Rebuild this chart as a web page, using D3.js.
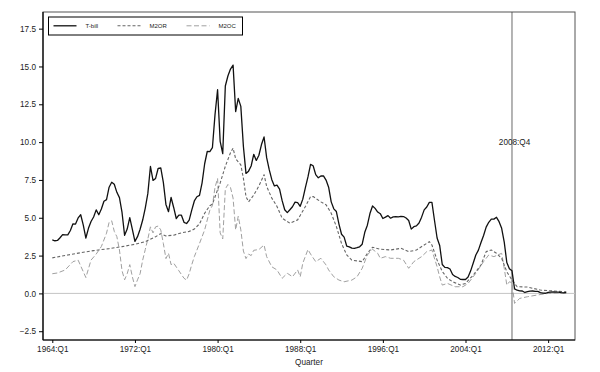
<!DOCTYPE html>
<html>
<head>
<meta charset="utf-8">
<script src="https://cdn.jsdelivr.net/npm/d3@7"></script>
<style>
body { margin: 0; background: #fff; }
svg { display: block; font-family: "Liberation Sans", Arial, sans-serif; }
</style>
</head>
<body>
<svg id="chart" width="600" height="372"></svg>
<script>
// T-bill, one value per quarter starting at firstQuarter
const firstQuarter = "1964:Q1";
const tbill = [
  3.53, 3.48, 3.50, 3.68,  3.89, 3.87, 3.87, 4.16,  4.60, 4.58, 4.99, 5.20,
  4.51, 3.66, 4.30, 4.75,  5.05, 5.52, 5.20, 5.58,  6.09, 6.20, 7.02, 7.35,
  7.21, 6.68, 6.33, 5.35,  3.84, 4.25, 5.01, 4.23,  3.44, 3.75, 4.24, 4.85,
  5.64, 6.61, 8.39, 7.47,  7.60, 8.27, 8.29, 7.34,  5.88, 5.40, 6.34, 5.68,
  4.95, 5.17, 5.17, 4.70,  4.62, 4.84, 5.50, 6.11,  6.39, 6.48, 7.31, 8.57,
  9.38, 9.37, 9.63, 11.80, 13.46, 10.05, 9.24, 13.71, 14.37, 14.83, 15.09, 12.02,
  12.89, 12.36, 9.71, 7.93, 8.08, 8.42, 9.19, 8.79,  9.13, 9.84, 10.34, 8.97,
  8.18, 7.52, 7.10, 7.15,  6.89, 6.13, 5.53, 5.34,  5.53, 5.73, 6.03, 6.00,
  5.76, 6.23, 6.99, 7.70,  8.53, 8.44, 7.85, 7.64,  7.76, 7.77, 7.49, 7.02,
  6.05, 5.59, 5.41, 4.58,  3.91, 3.72, 3.13, 3.08,  2.99, 2.98, 3.02, 3.08,
  3.25, 4.04, 4.51, 5.28,  5.78, 5.62, 5.38, 5.27,  4.95, 5.04, 5.14, 4.97,
  5.06, 5.07, 5.06, 5.09,  5.08, 4.98, 4.82, 4.25,  4.41, 4.46, 4.65, 5.04,
  5.52, 5.71, 6.02, 6.02,  4.82, 3.66, 3.17, 1.91,  1.72, 1.70, 1.61, 1.25,
  1.12, 1.05, 0.93, 0.92,  0.92, 1.08, 1.49, 2.01,  2.54, 2.86, 3.36, 3.83,
  4.38, 4.70, 4.91, 4.91,  5.03, 4.74, 4.30, 3.39,  2.04, 1.63, 1.49, 0.30,
  0.21, 0.17, 0.16, 0.06,  0.11, 0.15, 0.16, 0.14,  0.13, 0.05, 0.02, 0.01,
  0.07, 0.09, 0.10, 0.09,  0.09, 0.05, 0.03, 0.06
];

// M2OR, read at turning points
const m2or = [
  ["1964:Q1", 2.35], ["1965:Q3", 2.54], ["1966:Q4", 2.69], ["1968:Q1", 2.83],
  ["1969:Q3", 2.96], ["1970:Q4", 3.09], ["1972:Q1", 3.25], ["1973:Q1", 3.42],
  ["1974:Q1", 3.75], ["1974:Q3", 3.95], ["1975:Q1", 3.80], ["1975:Q4", 3.85],
  ["1976:Q3", 4.00], ["1977:Q2", 4.10], ["1977:Q4", 4.25], ["1978:Q2", 4.60],
  ["1978:Q4", 5.30], ["1979:Q2", 5.80], ["1979:Q3", 5.90], ["1980:Q1", 6.85],
  ["1980:Q2", 7.30], ["1980:Q4", 8.40], ["1981:Q2", 9.30], ["1981:Q3", 9.60],
  ["1981:Q4", 8.90], ["1982:Q1", 8.70], ["1982:Q2", 8.50], ["1982:Q3", 7.60],
  ["1982:Q4", 6.40], ["1983:Q1", 6.05], ["1983:Q3", 6.50], ["1984:Q1", 7.10],
  ["1984:Q3", 7.85], ["1984:Q4", 7.07], ["1985:Q2", 6.30], ["1985:Q4", 5.75],
  ["1986:Q2", 4.97], ["1987:Q1", 4.64], ["1987:Q4", 4.86], ["1988:Q3", 5.74],
  ["1989:Q1", 6.40], ["1989:Q2", 6.40], ["1990:Q1", 6.05], ["1990:Q3", 5.86],
  ["1991:Q1", 5.30], ["1991:Q3", 4.42], ["1992:Q1", 3.30], ["1992:Q3", 2.54],
  ["1993:Q1", 2.20], ["1994:Q1", 2.10], ["1994:Q3", 2.65], ["1995:Q1", 3.05],
  ["1995:Q4", 2.92], ["1996:Q4", 2.87], ["1997:Q4", 2.98], ["1998:Q3", 2.76],
  ["1999:Q2", 2.87], ["2000:Q1", 3.20], ["2000:Q3", 3.42], ["2000:Q4", 3.20],
  ["2001:Q2", 2.20], ["2001:Q4", 1.45], ["2002:Q2", 1.00], ["2002:Q4", 0.77],
  ["2003:Q3", 0.55], ["2004:Q1", 0.66], ["2004:Q4", 1.21], ["2005:Q3", 1.88],
  ["2006:Q1", 2.76], ["2006:Q3", 2.87], ["2007:Q1", 2.65], ["2007:Q3", 2.32],
  ["2008:Q1", 1.43], ["2008:Q3", 0.88], ["2009:Q1", 0.44], ["2010:Q1", 0.42],
  ["2011:Q2", 0.22], ["2013:Q4", 0.10]
];

// M2OC, read at turning points
const m2oc = [
  ["1964:Q1", 1.30], ["1964:Q3", 1.35], ["1965:Q2", 1.55], ["1966:Q1", 2.10],
  ["1966:Q3", 2.20], ["1967:Q2", 1.05], ["1967:Q4", 2.20], ["1968:Q2", 2.60],
  ["1968:Q4", 3.10], ["1969:Q2", 3.98], ["1969:Q3", 4.70], ["1969:Q4", 4.80],
  ["1970:Q1", 4.10], ["1970:Q2", 3.75], ["1970:Q3", 2.87], ["1970:Q4", 1.50],
  ["1971:Q1", 0.90], ["1971:Q2", 1.30], ["1971:Q3", 1.90], ["1971:Q4", 1.10],
  ["1972:Q1", 0.45], ["1972:Q2", 0.90], ["1972:Q3", 1.30], ["1972:Q4", 2.20],
  ["1973:Q1", 2.90], ["1973:Q2", 3.60], ["1973:Q3", 4.40], ["1973:Q4", 4.00],
  ["1974:Q1", 4.40], ["1974:Q2", 4.45], ["1974:Q3", 4.20], ["1974:Q4", 3.30],
  ["1975:Q1", 2.30], ["1975:Q2", 2.65], ["1975:Q3", 1.90], ["1975:Q4", 2.00],
  ["1976:Q2", 1.50], ["1976:Q4", 1.00], ["1977:Q1", 0.88], ["1977:Q2", 1.30],
  ["1977:Q3", 1.90], ["1977:Q4", 2.43], ["1978:Q2", 3.30], ["1978:Q4", 4.20],
  ["1979:Q2", 5.50], ["1979:Q3", 5.80], ["1979:Q4", 7.00], ["1980:Q1", 7.60],
  ["1980:Q2", 4.00], ["1980:Q3", 3.60], ["1980:Q4", 6.90], ["1981:Q1", 7.20],
  ["1981:Q2", 7.00], ["1981:Q3", 6.30], ["1981:Q4", 4.20], ["1982:Q1", 5.10],
  ["1982:Q2", 4.20], ["1982:Q3", 2.80], ["1982:Q4", 2.30], ["1983:Q1", 2.60],
  ["1983:Q2", 2.50], ["1983:Q3", 2.85], ["1984:Q1", 2.90], ["1984:Q3", 3.20],
  ["1984:Q4", 2.43], ["1985:Q2", 1.76], ["1985:Q4", 1.55], ["1986:Q2", 1.00],
  ["1986:Q4", 1.33], ["1987:Q2", 1.10], ["1987:Q4", 1.55], ["1988:Q1", 1.10],
  ["1988:Q2", 2.00], ["1988:Q4", 2.90], ["1989:Q1", 2.60], ["1989:Q3", 2.10],
  ["1990:Q1", 2.32], ["1990:Q3", 1.88], ["1990:Q4", 1.55], ["1991:Q2", 1.10],
  ["1991:Q4", 0.88], ["1992:Q2", 0.77], ["1993:Q1", 0.88], ["1993:Q3", 1.10],
  ["1994:Q1", 1.66], ["1994:Q3", 2.54], ["1995:Q1", 2.92], ["1995:Q3", 2.65],
  ["1995:Q4", 2.32], ["1996:Q2", 2.43], ["1996:Q4", 2.32], ["1997:Q3", 2.32],
  ["1998:Q1", 2.20], ["1998:Q3", 1.66], ["1999:Q1", 2.10], ["1999:Q4", 2.43],
  ["2000:Q2", 2.76], ["2000:Q4", 2.87], ["2001:Q2", 1.76], ["2001:Q3", 1.10],
  ["2001:Q4", 0.55], ["2002:Q2", 0.66], ["2003:Q1", 0.44], ["2003:Q4", 0.44],
  ["2004:Q2", 0.66], ["2005:Q1", 1.33], ["2005:Q4", 2.10], ["2006:Q2", 2.54],
  ["2006:Q4", 2.43], ["2007:Q3", 2.65], ["2007:Q4", 1.66], ["2008:Q1", 0.55],
  ["2008:Q2", 0.77], ["2008:Q3", 0.70], ["2008:Q4", -0.66], ["2009:Q2", -0.33],
  ["2010:Q1", -0.22], ["2011:Q1", -0.10], ["2012:Q1", 0.00], ["2013:Q4", 0.05]
];

const yTicks = [-2.5, 0, 2.5, 5, 7.5, 10, 12.5, 15, 17.5];
const xTickQuarters = ["1964:Q1", "1972:Q1", "1980:Q1", "1988:Q1", "1996:Q1", "2004:Q1", "2012:Q1"];
const eventQuarter = "2008:Q4";
const xTitle = "Quarter";

// "1980:Q3" -> 1980.5
function qtime(q) {
    let parts = q.split(":Q");
    return +parts[0] + (+parts[1] - 1) / 4;
}

let margin = {top: 12, right: 25, bottom: 32, left: 43};
let width = 600, height = 372;

let svg = d3.select("#chart");

let x = d3.scaleLinear().domain([1963.1, 2014.6]).range([margin.left, width - margin.right]);
let y = d3.scaleLinear().domain([-3.08, 18.6]).range([height - margin.bottom, margin.top]);

let t0 = qtime(firstQuarter);
let tbillData = tbill.map((v, i) => ({t: t0 + i / 4, v: v}));
let m2orData = m2or.map(d => ({t: qtime(d[0]), v: d[1]}));
let m2ocData = m2oc.map(d => ({t: qtime(d[0]), v: d[1]}));

let series = [
    {name: "T-bill", values: tbillData, color: "#111", dash: null, width: 1.3},
    {name: "M2OR", values: m2orData, color: "#666", dash: "3,2", width: 1.1},
    {name: "M2OC", values: m2ocData, color: "#a0a0a0", dash: "5,2.5", width: 1}
];

// frame (top/right lighter)
svg.append("rect")
    .attr("x", margin.left).attr("y", margin.top)
    .attr("width", width - margin.left - margin.right)
    .attr("height", height - margin.top - margin.bottom)
    .attr("fill", "none").attr("stroke", "#555").attr("stroke-width", 1);

// zero line
svg.append("line")
    .attr("x1", margin.left).attr("x2", width - margin.right)
    .attr("y1", y(0)).attr("y2", y(0))
    .attr("stroke", "#c4c4c4").attr("stroke-width", 1);

// event line, the reference puts the rule one quarter left of its label
let ex = x(qtime(eventQuarter));
svg.append("line")
    .attr("x1", ex - (x(1) - x(0)) / 4).attr("x2", ex - (x(1) - x(0)) / 4)
    .attr("y1", margin.top).attr("y2", height - margin.bottom)
    .attr("stroke", "#444").attr("stroke-width", 0.8);
svg.append("text")
    .attr("x", ex).attr("y", 144.5)
    .attr("text-anchor", "middle")
    .attr("font-size", "8.2px").attr("fill", "#222")
    .text(eventQuarter);

let linefcn = d3.line().x(d => x(d.t)).y(d => y(d.v));

svg.selectAll(".series")
    .data(series.slice().reverse())
    .enter().append("path")
    .attr("class", "series")
    .attr("d", d => linefcn(d.values))
    .attr("fill", "none")
    .attr("stroke", d => d.color)
    .attr("stroke-width", d => d.width)
    .attr("stroke-dasharray", d => d.dash)
    .attr("stroke-linejoin", "round");

// axes
let yAxis = d3.axisLeft(y).tickValues(yTicks).tickFormat(d3.format(".1f")).tickSize(4).tickPadding(3);
let gy = svg.append("g").attr("transform", "translate(" + margin.left + ",0)").call(yAxis);
let xAxis = d3.axisBottom(x).tickValues(xTickQuarters.map(qtime))
    .tickFormat(d => xTickQuarters[xTickQuarters.map(qtime).indexOf(d)]).tickSize(3).tickPadding(3);
let gx = svg.append("g").attr("transform", "translate(0," + (height - margin.bottom) + ")").call(xAxis);

[gx, gy].forEach(g => {
    g.select(".domain").attr("stroke", "#000").attr("stroke-width", 1.2);
    g.selectAll(".tick line").attr("stroke", "#000");
    g.selectAll("text").attr("font-size", "8.2px").attr("fill", "#222")
        .attr("font-family", "Liberation Sans, Arial, sans-serif");
});
gx.select(".domain").attr("d", "M" + margin.left + ",0H" + (width - margin.right));
gy.select(".domain").attr("d", "M0," + margin.top + "V" + (height - margin.bottom));

svg.append("text")
    .attr("x", (margin.left + width - margin.right) / 2).attr("y", 364.5)
    .attr("text-anchor", "middle")
    .attr("font-size", "8.2px").attr("fill", "#222")
    .text(xTitle);

// legend
let legend = svg.append("g").attr("transform", "translate(48.5,17)");
legend.append("rect")
    .attr("width", 194).attr("height", 18)
    .attr("fill", "#fff").attr("stroke", "#000").attr("stroke-width", 1);
let lx = [5, 69, 138];
series.forEach((s, i) => {
    legend.append("line")
        .attr("x1", lx[i]).attr("x2", lx[i] + 23)
        .attr("y1", 8.8).attr("y2", 8.8)
        .attr("stroke", s.color).attr("stroke-width", s.width)
        .attr("stroke-dasharray", s.dash);
    legend.append("text")
        .attr("x", lx[i] + 32).attr("y", 11)
        .attr("font-size", "6px").attr("fill", "#222")
        .text(s.name);
});
</script>
</body>
</html>
